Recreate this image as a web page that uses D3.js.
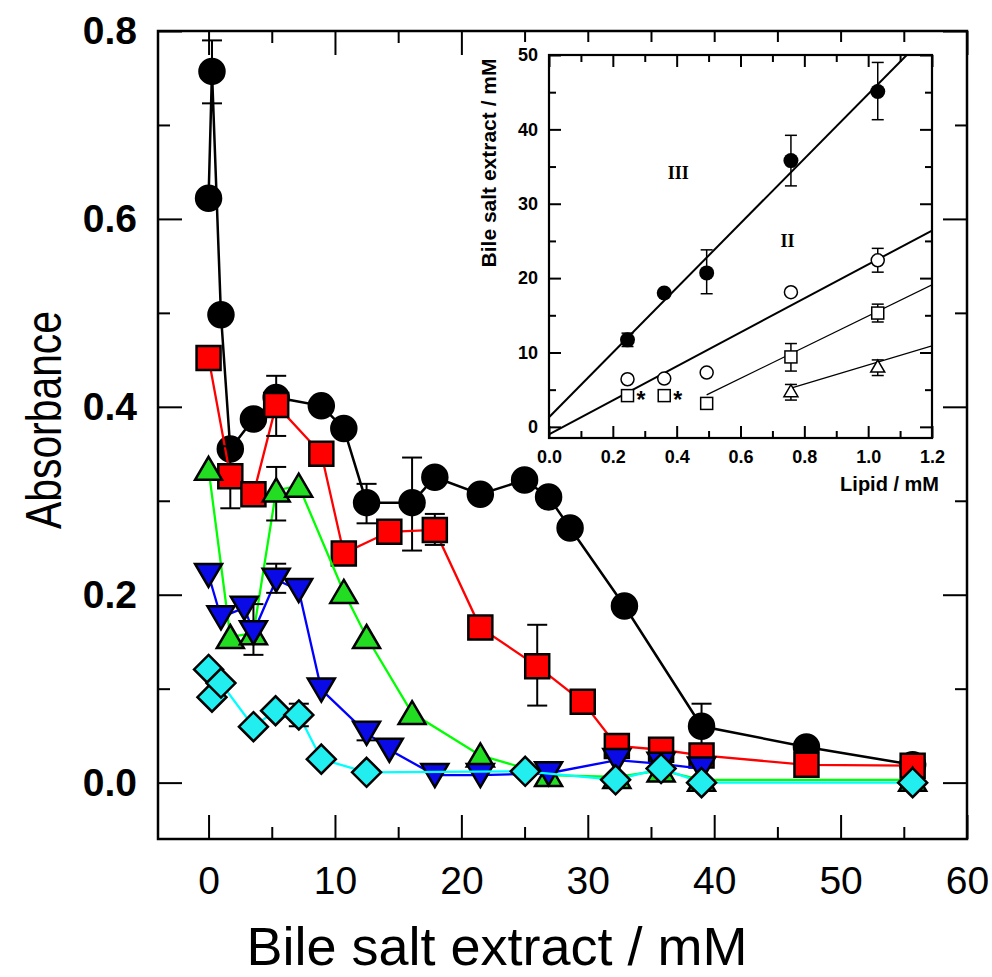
<!DOCTYPE html>
<html>
<head>
<meta charset="utf-8">
<script src="https://cdn.jsdelivr.net/npm/d3@7"></script>
<style>
    body { margin: 0; background: #fff; }
    text { font-family: "Liberation Sans", Arial, sans-serif; }
</style>
</head>
<body>
<div id="chart"></div>
<script>

//main panel: absorbance vs bile salt extract, [x, y]
const blackPts = [[0, 0.622], [0.27, 0.757], [0.98, 0.498], [1.72, 0.355], [3.55, 0.387], [5.35, 0.410],
    [8.92, 0.401], [10.7, 0.377], [12.5, 0.298], [16.1, 0.298], [17.9, 0.325], [21.5, 0.307], [25.0, 0.322],
    [26.9, 0.304], [28.6, 0.271], [32.9, 0.188], [39.0, 0.060], [47.3, 0.038], [55.7, 0.019]];
const redPts = [[0, 0.452], [1.72, 0.326], [3.55, 0.307], [5.35, 0.402], [8.92, 0.350], [10.7, 0.244],
    [14.3, 0.267], [17.9, 0.269], [21.5, 0.165], [26.0, 0.124], [29.6, 0.086], [32.3, 0.039], [35.8, 0.035],
    [39.0, 0.029], [47.3, 0.019], [55.7, 0.018]];
const greenPts = [[0, 0.334], [1.72, 0.155], [3.55, 0.159], [5.35, 0.311], [7.13, 0.316], [10.7, 0.203],
    [12.5, 0.155], [16.1, 0.074], [21.5, 0.029], [26.9, 0.008], [32.3, 0.006], [35.8, 0.013], [39.0, 0.003],
    [55.7, 0.003]];
const bluePts = [[0, 0.221], [0.98, 0.176], [2.83, 0.186], [3.55, 0.160], [5.35, 0.216], [7.13, 0.205],
    [8.92, 0.099], [12.5, 0.053], [14.3, 0.035], [17.9, 0.008], [21.5, 0.008], [26.9, 0.010], [32.3, 0.024],
    [35.8, 0.020], [39.0, 0.015]];
const cyanPts = [[0, 0.1205], [0.27, 0.091], [0.98, 0.106], [3.55, 0.0595], [5.3, 0.0765], [7.14, 0.072],
    [8.92, 0.025], [12.5, 0.011], [25.05, 0.012], [32.2, 0.003], [35.8, 0.015], [39.0, 0], [55.7, 0]];

//error bars [x, low, high]
const blackErr = [[0.27, 0.723, 0.790], [12.5, 0.276, 0.318], [16.1, 0.247, 0.346], [39.0, 0.035, 0.084]];
const redErr = [[1.72, 0.292, 0.358], [5.35, 0.369, 0.433], [17.9, 0.253, 0.286], [26.0, 0.082, 0.168]];
const greenErr = [[5.35, 0.279, 0.336]];
const blueErr = [[3.55, 0.136, 0.190], [5.35, 0.202, 0.233], [12.5, 0.045, 0.060]];
const cyanErr = [[7.14, 0.060, 0.084]];

const xTicks = [0, 10, 20, 30, 40, 50, 60];
const xMinor = [5, 15, 25, 35, 45, 55];
const yTicks = [0, 0.2, 0.4, 0.6, 0.8];
const yMinor = [0.1, 0.3, 0.5, 0.7];

//inset: bile salt extract vs lipid
const insetIII = [[0.246, 11.7], [0.361, 18.0], [0.494, 20.7], [0.758, 35.8], [1.03, 45.1]];
const insetIIIErr = [[0.246, 10.8, 12.6], [0.494, 17.9, 23.8], [0.758, 32.4, 39.2], [1.03, 41.3, 49.0]];
const insetII = [[0.246, 6.4], [0.361, 6.5], [0.494, 7.3], [0.758, 18.1], [1.03, 22.4]];
const insetIIErr = [[1.03, 20.8, 24.0]];
const insetSq = [[0.246, 4.2], [0.361, 4.2], [0.494, 3.15], [0.758, 9.4], [1.03, 15.3]];
const insetSqErr = [[0.758, 7.5, 11.2], [1.03, 14.1, 16.5]];
const insetTri = [[0.758, 4.8], [1.03, 8.1]];
const insetTriErr = [[0.758, 3.6, 5.7], [1.03, 6.9, 9.0]];
const insetStars = [[0.246, 4.2], [0.361, 4.2]];

//fitted lines, end points
const fitIII = [[0, 1.3], [1.121, 50]];
const fitII = [[0, -1.0], [1.2, 26.4]];
const fitSq = [[0.494, 4.3], [1.2, 19.1]];
const fitTri = [[0.758, 5.2], [1.2, 10.9]];

const insetXTicks = [0, 0.2, 0.4, 0.6, 0.8, 1.0, 1.2];
const insetXMinor = [0.1, 0.3, 0.5, 0.7, 0.9, 1.1];
const insetYTicks = [0, 10, 20, 30, 40, 50];
const insetYMinor = [5, 15, 25, 35, 45];
const regionLabels = [["III", 0.405, 34.2], ["II", 0.747, 25.0]];


class BileChart {

    constructor(_parentElement) {
        this.parentElement = _parentElement;
        this.initVis();
    }

    initVis() {
        let vis = this;

        vis.margin = {top: 31, right: 25, bottom: 138, left: 158};
        vis.width = 992 - vis.margin.left - vis.margin.right;
        vis.height = 977 - vis.margin.top - vis.margin.bottom;

        vis.root = d3.select("#" + vis.parentElement).append("svg")
            .attr("width", 992)
            .attr("height", 977);

        vis.svg = vis.root.append("g")
            .attr("transform", "translate(" + vis.margin.left + "," + vis.margin.top + ")");

        vis.x = d3.scaleLinear().domain([-4, 60]).range([0, vis.width]);
        vis.y = d3.scaleLinear().domain([-0.06, 0.8]).range([vis.height, 0]);

        //ticks point inwards on all four sides
        vis.addAxis(d3.axisBottom(vis.x).tickValues(xTicks).tickSize(-24).tickPadding(27).tickFormat(d3.format("d")),
            "translate(0," + vis.height + ")", "x-axis");
        vis.addAxis(d3.axisBottom(vis.x).tickValues(xMinor).tickSize(-12).tickFormat(""),
            "translate(0," + vis.height + ")");
        vis.addAxis(d3.axisTop(vis.x).tickValues(xTicks).tickSize(-24).tickFormat(""), "translate(0,0)");
        vis.addAxis(d3.axisTop(vis.x).tickValues(xMinor).tickSize(-12).tickFormat(""), "translate(0,0)");
        vis.addAxis(d3.axisLeft(vis.y).tickValues(yTicks).tickSize(-24).tickPadding(21).tickFormat(d3.format(".1f")),
            "translate(0,0)", "y-axis");
        vis.addAxis(d3.axisLeft(vis.y).tickValues(yMinor).tickSize(-12).tickFormat(""), "translate(0,0)");
        vis.addAxis(d3.axisRight(vis.y).tickValues(yTicks).tickSize(-24).tickFormat(""),
            "translate(" + vis.width + ",0)");
        vis.addAxis(d3.axisRight(vis.y).tickValues(yMinor).tickSize(-12).tickFormat(""),
            "translate(" + vis.width + ",0)");

        vis.svg.selectAll(".x-axis text")
            .attr("font-size", 39);
        vis.svg.selectAll(".y-axis text")
            .attr("font-size", 39)
            .attr("font-weight", "bold");

        vis.svg.append("rect")
            .attr("width", vis.width)
            .attr("height", vis.height)
            .attr("fill", "none")
            .attr("stroke", "#000")
            .attr("stroke-width", 2.5);

        //axis titles
        vis.root.append("text")
            .attr("transform", "translate(61,420) rotate(-90)")
            .attr("text-anchor", "middle")
            .attr("font-size", 50)
            .attr("textLength", 218)
            .attr("lengthAdjust", "spacingAndGlyphs")
            .text("Absorbance");

        vis.root.append("text")
            .attr("x", 497)
            .attr("y", 965)
            .attr("text-anchor", "middle")
            .attr("font-size", 54)
            .text("Bile salt extract / mM");

        vis.initInset();

        //data goes on top of the inset's white box
        vis.dataLayer = vis.root.append("g")
            .attr("transform", "translate(" + vis.margin.left + "," + vis.margin.top + ")");

        vis.updateVis();
    }

    addAxis(axis, transform, cls) {
        let vis = this;
        let g = vis.svg.append("g")
            .attr("class", cls || "minor")
            .attr("transform", transform)
            .call(axis.tickSizeOuter(0));
        g.select(".domain").remove();
        g.selectAll("line").attr("stroke-width", 2);
        return g;
    }

    initInset() {
        let vis = this;

        //white box so the main ticks do not run through the inset
        vis.root.append("rect")
            .attr("x", 478)
            .attr("y", 42)
            .attr("width", 464)
            .attr("height", 458)
            .attr("fill", "#fff");

        vis.inset = vis.root.append("g")
            .attr("transform", "translate(549,55)");

        vis.iw = 383;
        vis.ih = 383;
        vis.ix = d3.scaleLinear().domain([0, 1.2]).range([0, vis.iw]);
        vis.iy = d3.scaleLinear().domain([-1.5, 50]).range([vis.ih, 0]);

        let sets = [
            [d3.axisBottom(vis.ix).tickValues(insetXTicks).tickSize(-12).tickPadding(12).tickFormat(d3.format(".1f")), [0, vis.ih], "ix-axis"],
            [d3.axisBottom(vis.ix).tickValues(insetXMinor).tickSize(-7).tickFormat(""), [0, vis.ih]],
            [d3.axisTop(vis.ix).tickValues(insetXTicks).tickSize(-12).tickFormat(""), [0, 0]],
            [d3.axisTop(vis.ix).tickValues(insetXMinor).tickSize(-7).tickFormat(""), [0, 0]],
            [d3.axisLeft(vis.iy).tickValues(insetYTicks).tickSize(-12).tickPadding(11).tickFormat(d3.format("d")), [0, 0], "iy-axis"],
            [d3.axisLeft(vis.iy).tickValues(insetYMinor).tickSize(-7).tickFormat(""), [0, 0]],
            [d3.axisRight(vis.iy).tickValues(insetYTicks).tickSize(-12).tickFormat(""), [vis.iw, 0]],
            [d3.axisRight(vis.iy).tickValues(insetYMinor).tickSize(-7).tickFormat(""), [vis.iw, 0]]
        ];
        sets.forEach(s => {
            let g = vis.inset.append("g")
                .attr("class", s[2] || "minor")
                .attr("transform", "translate(" + s[1][0] + "," + s[1][1] + ")")
                .call(s[0].tickSizeOuter(0));
            g.select(".domain").remove();
            g.selectAll("line").attr("stroke-width", 2);
        });

        vis.inset.selectAll(".ix-axis text, .iy-axis text")
            .attr("font-size", 18)
            .attr("font-weight", "bold");

        vis.inset.append("defs").append("clipPath")
            .attr("id", "inset-clip")
            .append("rect")
            .attr("width", vis.iw)
            .attr("height", vis.ih);

        vis.inset.append("rect")
            .attr("width", vis.iw)
            .attr("height", vis.ih)
            .attr("fill", "none")
            .attr("stroke", "#000")
            .attr("stroke-width", 2.2);

        vis.inset.append("text")
            .attr("x", 390)
            .attr("y", 436)
            .attr("text-anchor", "end")
            .attr("font-size", 20)
            .attr("font-weight", "bold")
            .text("Lipid / mM");

        vis.inset.append("text")
            .attr("transform", "translate(-53,108) rotate(-90)")
            .attr("text-anchor", "middle")
            .attr("font-size", 21)
            .attr("font-weight", "bold")
            .text("Bile salt extract / mM");
    }

    drawErr(g, data, x, y, cap, sw) {
        let bars = g.selectAll(null).data(data).enter().append("g")
            .attr("stroke", "#000")
            .attr("stroke-width", sw);
        bars.append("line")
            .attr("x1", d => x(d[0])).attr("x2", d => x(d[0]))
            .attr("y1", d => y(d[1])).attr("y2", d => y(d[2]));
        bars.append("line")
            .attr("x1", d => x(d[0]) - cap).attr("x2", d => x(d[0]) + cap)
            .attr("y1", d => y(d[1])).attr("y2", d => y(d[1]));
        bars.append("line")
            .attr("x1", d => x(d[0]) - cap).attr("x2", d => x(d[0]) + cap)
            .attr("y1", d => y(d[2])).attr("y2", d => y(d[2]));
    }

    updateVis() {
        let vis = this;

        //marker shapes, centred on the point
        let shapes = {
            circle: d3.symbol(d3.symbolCircle, Math.PI * 12.5 * 12.5)(),
            square: "M-12,-12H12V12H-12Z",
            up: "M0,-12L13.5,11L-13.5,11Z",
            down: "M0,12L13.5,-11L-13.5,-11Z",
            diamond: "M0,-14.5L14.5,0L0,14.5L-14.5,0Z"
        };

        let series = [
            {pts: blackPts, err: blackErr, line: "#000", fill: "#000", shape: "circle", lw: 2.5},
            {pts: redPts, err: redErr, line: "#ff0000", fill: "#ff0000", shape: "square", lw: 2.3},
            {pts: greenPts, err: greenErr, line: "#00ff00", fill: "#22dd22", shape: "up", lw: 2.3},
            {pts: bluePts, err: blueErr, line: "#0000ff", fill: "#0a0ae6", shape: "down", lw: 2.3},
            {pts: cyanPts, err: cyanErr, line: "#00ffff", fill: "#22eef0", shape: "diamond", lw: 2.3}
        ];

        let line = d3.line().x(d => vis.x(d[0])).y(d => vis.y(d[1]));

        series.forEach(s => {
            let g = vis.dataLayer.append("g");
            g.append("path")
                .datum(s.pts)
                .attr("d", line)
                .attr("fill", "none")
                .attr("stroke", s.line)
                .attr("stroke-width", s.lw);
            vis.drawErr(g, s.err, vis.x, vis.y, 10, 2);
            g.selectAll(".mark")
                .data(s.pts)
                .enter()
                .append("path")
                .attr("class", "mark")
                .attr("d", shapes[s.shape])
                .attr("transform", d => "translate(" + vis.x(d[0]) + "," + vis.y(d[1]) + ")")
                .attr("fill", s.fill)
                .attr("stroke", "#000")
                .attr("stroke-width", 2.5);
        });

        //inset content
        let ig = vis.inset.append("g");
        let iline = d3.line().x(d => vis.ix(d[0])).y(d => vis.iy(d[1]));
        let fits = [[fitIII, 2], [fitII, 2], [fitSq, 1.2], [fitTri, 1.2]];
        fits.forEach(f => {
            ig.append("path")
                .datum(f[0])
                .attr("d", iline)
                .attr("clip-path", "url(#inset-clip)")
                .attr("fill", "none")
                .attr("stroke", "#000")
                .attr("stroke-width", f[1]);
        });

        [insetIIIErr, insetIIErr, insetSqErr, insetTriErr].forEach(e => {
            vis.drawErr(ig, e, vis.ix, vis.iy, 6, 1.5);
        });

        ig.selectAll(".c3").data(insetIII).enter().append("circle")
            .attr("cx", d => vis.ix(d[0])).attr("cy", d => vis.iy(d[1]))
            .attr("r", 7.5)
            .attr("fill", "#000");

        ig.selectAll(".c2").data(insetII).enter().append("circle")
            .attr("cx", d => vis.ix(d[0])).attr("cy", d => vis.iy(d[1]))
            .attr("r", 6.5)
            .attr("fill", "#fff")
            .attr("stroke", "#000")
            .attr("stroke-width", 1.5);

        ig.selectAll(".sq").data(insetSq).enter().append("rect")
            .attr("x", d => vis.ix(d[0]) - 6).attr("y", d => vis.iy(d[1]) - 6)
            .attr("width", 12).attr("height", 12)
            .attr("fill", "#fff")
            .attr("stroke", "#000")
            .attr("stroke-width", 1.5);

        ig.selectAll(".tri").data(insetTri).enter().append("path")
            .attr("d", "M0,-6.5L7,5.5L-7,5.5Z")
            .attr("transform", d => "translate(" + vis.ix(d[0]) + "," + vis.iy(d[1]) + ")")
            .attr("fill", "#fff")
            .attr("stroke", "#000")
            .attr("stroke-width", 1.5);

        ig.selectAll(".star").data(insetStars).enter().append("text")
            .attr("x", d => vis.ix(d[0]) + 9)
            .attr("y", d => vis.iy(d[1]) + 12)
            .attr("font-size", 23)
            .attr("font-weight", "bold")
            .text("*");

        //roman numerals are serif; style() so the page css does not win
        ig.selectAll(".roman").data(regionLabels).enter().append("text")
            .attr("x", d => vis.ix(d[1]))
            .attr("y", d => vis.iy(d[2]) + 6)
            .attr("text-anchor", "middle")
            .style("font-family", "'Liberation Serif', 'Times New Roman', serif")
            .attr("font-weight", "bold")
            .attr("font-size", 18)
            .text(d => d[0]);
    }
}

new BileChart("chart");
</script>
</body>
</html>
